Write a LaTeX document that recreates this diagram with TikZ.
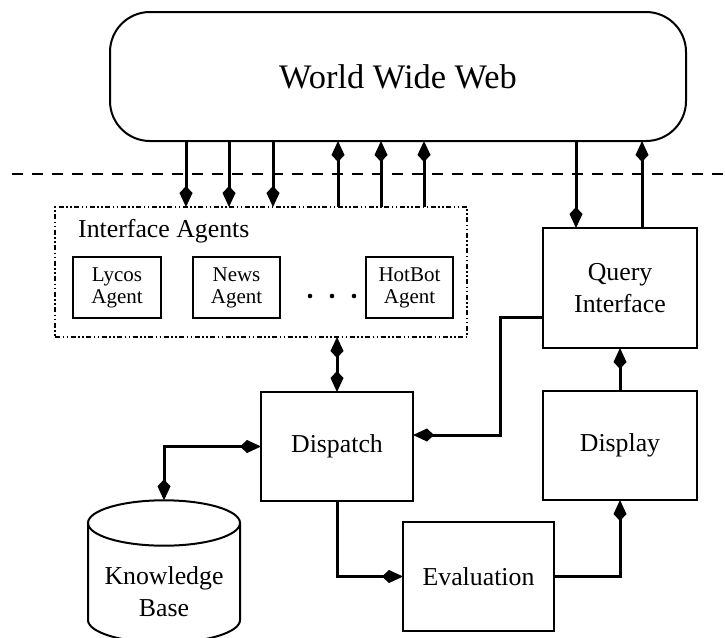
\documentclass[tikz,border=0pt]{standalone}
\usepackage{fontspec}
\setmainfont{Liberation Serif}
\usetikzlibrary{arrows.meta}
\newcommand{\txtmain}{\fontsize{25.8pt}{32pt}\selectfont}
\newcommand{\txtsmall}{\fontsize{21pt}{22pt}\selectfont}
\newcommand{\txtbig}{\fontsize{34.4pt}{40pt}\selectfont}
\begin{document}
\begin{tikzpicture}[x=1pt,y=-1pt,
  >={Kite[length=21pt,width=13pt,inset=7pt]},
  box/.style={draw, line width=2pt, inner sep=0pt, outer sep=0pt, align=center, font=\txtmain},
  agentbox/.style={box, line width=1.8pt, minimum width=87pt, minimum height=61pt, font=\txtsmall},
  conn/.style={line width=3pt},
  groupbox/.style={draw, line width=1.6pt, inner sep=0pt, outer sep=0pt,
    dash pattern=on 5pt off 2.5pt on 1.5pt off 2.5pt on 1.5pt off 2.5pt},
  boundary/.style={line width=1.7pt, dash pattern=on 11pt off 9pt}]
\clip (0,0) rectangle (725,637);
\fill[white] (0,0) rectangle (725,637);

% web cloud at the top
\node[box, rounded corners=40pt, minimum width=576pt, minimum height=129pt, font=\txtbig]
  (www) at (398,76.5) {World Wide Web};

% boundary line
\coordinate (bl) at (12,174);
\coordinate (br) at (725,174);
\draw[boundary] (bl) -- (br);

% interface agents group
\node[groupbox, minimum width=412pt, minimum height=130pt] (ia) at (261,272) {};
\node[anchor=west, font=\txtmain, inner sep=0pt] (ialabel) at (78,231) {Interface Agents};
\node[agentbox, minimum width=88pt] (lycos) at (117,287.5) {Lycos\\Agent};
\node[agentbox] (news) at (236.5,287.5) {News\\Agent};
\node[agentbox] (hotbot) at (409.5,287.5) {HotBot\\Agent};
\foreach \x in {310,332,354} \fill (\x,296) circle[radius=2.3pt];

% processing boxes
\node[box, minimum width=154pt, minimum height=120pt] (query) at (620,288) {Query\\Interface};
\node[box, minimum width=154pt, minimum height=109pt] (display) at (620,445.5) {Display};
\node[box, minimum width=152pt, minimum height=109pt] (disp) at (337,446.5) {Dispatch};
\node[box, minimum width=151pt, minimum height=109pt] (eval) at (478.5,576.5) {Evaluation};

% knowledge base cylinder
\draw[line width=2pt] (88,523) -- (88,620) arc[start angle=180, end angle=360, x radius=76pt, y radius=22.7pt] -- (240,523);
\draw[line width=2pt] (164,523) ellipse[x radius=76pt, y radius=22.7pt];
\coordinate (kbtop) at (164,500.3);
\node[align=center, font=\txtmain, inner sep=0pt] (kb) at (164,592) {Knowledge\\Base};

% crossing points of the web links on the boundary
\coordinate (d1) at (186,174);
\coordinate (d2) at (229,174);
\coordinate (d3) at (273,174);
\coordinate (u1) at (338,174);
\coordinate (u2) at (381,174);
\coordinate (u3) at (424,174);
\coordinate (q1) at (576,174);
\coordinate (q2) at (642,174);

\foreach \c in {d1,d2,d3}
  \draw[conn,->] (www.south -| \c) -- (ia.north -| \c);
\foreach \c in {u1,u2,u3}
  \draw[conn,->] (ia.north -| \c) -- (www.south -| \c);
\draw[conn,->] (www.south -| q1) -- (query.north -| q1);
\draw[conn,->] (query.north -| q2) -- (www.south -| q2);

% internal links
\draw[conn,<->] (ia.south -| disp.north) -- (disp.north);
\draw[conn,->] ([yshift=-29pt]query.west) -- ++(-43pt,0) |- ([yshift=11.5pt]disp.east);
\draw[conn,<->] (kbtop) |- (disp.west);
\draw[conn,->] (disp.south) |- (eval.west);
\draw[conn,->] (eval.east) -| (display.south);
\draw[conn,->] (display.north) -- (query.south);
\end{tikzpicture}
\end{document}
